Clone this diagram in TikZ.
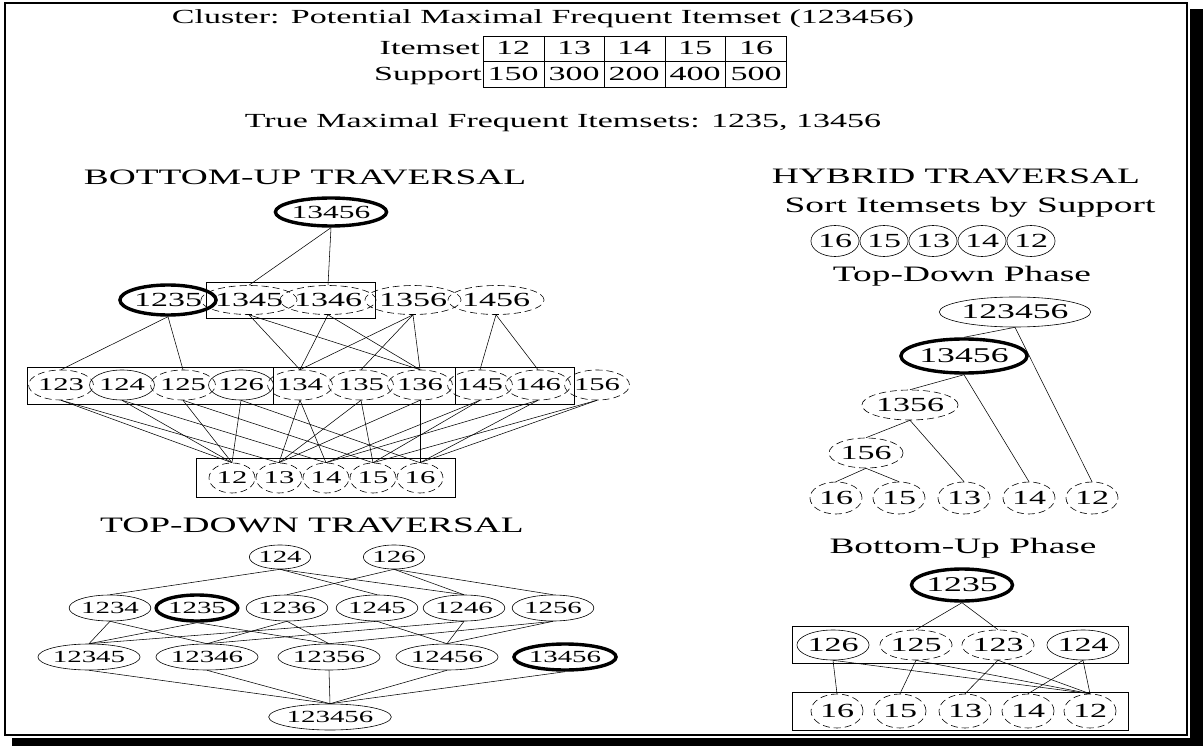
\documentclass[tikz,border=0pt]{standalone}
\usepackage{fontspec}
\setmainfont{Liberation Serif}[FakeStretch=1.7]
\usetikzlibrary{shapes.geometric}
\newcommand\hdsize{\fontsize{22}{24}\selectfont}
\newcommand\txsize{\fontsize{20}{22}\selectfont}
\newcommand\ndsize{\fontsize{20}{22}\selectfont}
\newcommand\smsize{\fontsize{18}{20}\selectfont}
\newcommand\tdsize{\fontsize{17}{19}\selectfont}
\begin{document}
\begin{tikzpicture}[x=1pt,y=-1pt,
  nd/.style={ellipse,draw,line width=0.6pt,inner sep=0pt,font=\ndsize},
  ds/.style={nd,dash pattern=on 7pt off 4pt},
  bd/.style={nd,line width=3.4pt},
  ed/.style={line width=0.55pt},
  gb/.style={draw,line width=0.7pt},
  tx/.style={inner sep=0pt,font=\txsize},
  hd/.style={inner sep=0pt,font=\hdsize},
  rtwo/.style={minimum width=78pt,minimum height=29pt},
  rthree/.style={minimum width=56pt,minimum height=30pt,font=\smsize},
  rfour/.style={minimum width=46pt,minimum height=30pt,font=\smsize},
  tdn/.style={font=\tdsize,minimum width=68pt,minimum height=26pt},
  hyn/.style={minimum width=52pt,minimum height=32pt}
]
\useasboundingbox (0,0) rectangle (1203,746);
% frame with shadow
\draw[line width=1.6pt] (5,3) rectangle (1187,735);
\fill[black] (1190,9) rectangle (1203,746);
\fill[black] (12,738) rectangle (1203,746);

% header
\node[tx] (title) at (543,19) {Cluster: Potential Maximal Frequent Itemset (123456)};
\node[tx,anchor=base east] (lis) at (480,55) {Itemset};
\node[tx,anchor=base east] (lsu) at (482,81) {Support};
\draw[gb] (483,36) rectangle (786,87);
\draw[gb] (483,61) -- (786,61);
\draw[gb] (544,36) -- (544,87) (604,36) -- (604,87) (665,36) -- (665,87) (725,36) -- (725,87);
\node[tx,anchor=base] (i1) at (513,55) {12};
\node[tx,anchor=base] (i2) at (574,55) {13};
\node[tx,anchor=base] (i3) at (634,55) {14};
\node[tx,anchor=base] (i4) at (695,55) {15};
\node[tx,anchor=base] (i5) at (756,55) {16};
\node[tx,anchor=base] (s1) at (513,81) {150};
\node[tx,anchor=base] (s2) at (574,81) {300};
\node[tx,anchor=base] (s3) at (634,81) {200};
\node[tx,anchor=base] (s4) at (695,81) {400};
\node[tx,anchor=base] (s5) at (756,81) {500};
\node[tx] (truemfi) at (563,123) {True Maximal Frequent Itemsets: 1235, 13456};

% ---------------- BOTTOM-UP TRAVERSAL
\node[hd] (hbu) at (305,177) {BOTTOM-UP TRAVERSAL};
\node[bd,minimum width=100pt,minimum height=28pt,font=\fontsize{18.5}{20}\selectfont] (b13456) at (331,212) {13456};
\node[bd,minimum width=80pt,minimum height=30pt] (b1235) at (168,300) {1235};
\node[ds,rtwo] (b1345) at (249,300) {1345};
\node[ds,rtwo] (b1346) at (328,300) {1346};
\node[ds,rtwo] (b1356) at (413,300) {1356};
\node[ds,rtwo] (b1456) at (496,300) {1456};
\draw[gb] (206,282) rectangle (375,318);

\node[ds,rthree] (b123) at (61,385) {123};
\node[nd,rthree] (b124) at (122,385) {124};
\node[ds,rthree] (b125) at (183,385) {125};
\node[nd,rthree] (b126) at (241,385) {126};
\node[ds,rthree] (b134) at (300,385) {134};
\node[ds,rthree] (b135) at (361,385) {135};
\node[ds,rthree] (b136) at (420,385) {136};
\node[ds,rthree] (b145) at (480,385) {145};
\node[ds,rthree] (b146) at (538,385) {146};
\node[ds,rthree] (b156) at (597,385) {156};
\draw[gb] (27,367) rectangle (574,404);
\draw[gb] (273,367) -- (273,404) (455,367) -- (455,404);

\node[ds,rfour] (c12) at (232,478) {12};
\node[ds,rfour] (c13) at (279,478) {13};
\node[ds,rfour] (c14) at (326,478) {14};
\node[ds,rfour] (c15) at (373,478) {15};
\node[ds,rfour] (c16) at (420,478) {16};
\draw[gb] (196,458) rectangle (455,497);

\draw[ed] (b13456.south) -- (b1345.north);
\draw[ed] (b13456.south) -- (b1346.north);
\foreach \a/\b in {1235/123,1235/125,1345/134,1345/136,1346/134,1346/136,1356/134,1356/135,1356/136,1456/145,1456/146}
  \draw[ed] (b\a.south) -- (b\b.north);
\foreach \a/\b in {123/12,123/13,124/12,124/14,125/12,125/15,126/12,126/16,134/13,134/14,135/13,135/15,136/13,136/16,145/14,145/15,146/14,146/16,156/15,156/16}
  \draw[ed] (b\a.south) -- (c\b.north);

% ---------------- TOP-DOWN TRAVERSAL
\node[hd] (htd) at (312,525) {TOP-DOWN TRAVERSAL};
\node[nd,tdn,minimum width=54pt,minimum height=24pt] (t124) at (280,557) {124};
\node[nd,tdn,minimum width=54pt,minimum height=24pt] (t126) at (394,557) {126};
\node[nd,tdn] (t1234) at (110,608) {1234};
\node[bd,tdn,minimum width=70pt] (t1235) at (197,608) {1235};
\node[nd,tdn] (t1236) at (287,608) {1236};
\node[nd,tdn] (t1245) at (377,608) {1245};
\node[nd,tdn] (t1246) at (464,608) {1246};
\node[nd,tdn] (t1256) at (553,608) {1256};
\node[nd,tdn,minimum width=72pt] (t12345) at (89,657) {12345};
\node[nd,tdn,minimum width=72pt] (t12346) at (207,657) {12346};
\node[nd,tdn,minimum width=72pt] (t12356) at (329,657) {12356};
\node[nd,tdn,minimum width=72pt] (t12456) at (447,657) {12456};
\node[bd,tdn,minimum width=86pt] (t13456) at (565,657) {13456};
\node[nd,tdn,minimum width=94pt] (t123456) at (330,717) {123456};
\foreach \a/\b in {124/1234,124/1245,124/1246,126/1236,126/1246,126/1256,
  1234/12345,1234/12346,1235/12345,1235/12356,1236/12346,1236/12356,
  1245/12345,1245/12456,1246/12346,1246/12456,1256/12356,1256/12456}
  \draw[ed] (t\a.south) -- (t\b.north);
\foreach \a in {12345,12346,12356,12456,13456}
  \draw[ed] (t\a.south) -- (t123456.north);

% ---------------- HYBRID TRAVERSAL
\node[hd] (hhy) at (956,176) {HYBRID TRAVERSAL};
\node[hd] (hsort) at (970,207) {Sort Itemsets by Support};
\node[nd,minimum width=46pt,minimum height=31pt] (o16) at (835,241) {16};
\node[nd,minimum width=46pt,minimum height=31pt] (o15) at (884,241) {15};
\node[nd,minimum width=46pt,minimum height=31pt] (o13) at (933,241) {13};
\node[nd,minimum width=46pt,minimum height=31pt] (o14) at (982,241) {14};
\node[nd,minimum width=46pt,minimum height=31pt] (o12) at (1031,241) {12};
\node[hd] (htdp) at (962,276) {Top-Down Phase};
\node[nd,minimum width=110pt,minimum height=30pt,font=\fontsize{21}{23}\selectfont] (h123456) at (1015,312) {123456};
\node[bd,minimum width=110pt,minimum height=34pt,font=\fontsize{21}{23}\selectfont] (h13456) at (964,356) {13456};
\node[ds,minimum width=88pt,minimum height=30pt] (h1356) at (910,405) {1356};
\node[ds,minimum width=74pt,minimum height=30pt] (h156) at (866,453) {156};
\node[ds,hyn] (h16) at (836,498) {16};
\node[ds,hyn] (h15) at (899,498) {15};
\node[ds,hyn] (h13) at (964,498) {13};
\node[ds,hyn] (h14) at (1029,498) {14};
\node[ds,hyn] (h12) at (1092,498) {12};
\foreach \a/\b in {123456/13456,123456/12,13456/1356,13456/14,1356/156,1356/13,156/16,156/15}
  \draw[ed] (h\a.south) -- (h\b.north);

\node[hd] (hbup) at (963,548) {Bottom-Up Phase};
\node[bd,minimum width=92pt,minimum height=32pt,font=\fontsize{21}{23}\selectfont] (g1235) at (962,585) {1235};
\draw[gb] (792,626) rectangle (1128,663);
\node[nd,minimum width=68pt,minimum height=30pt] (g126) at (833,645) {126};
\node[ds,minimum width=68pt,minimum height=30pt] (g125) at (916,645) {125};
\node[ds,minimum width=68pt,minimum height=30pt] (g123) at (998,645) {123};
\node[nd,minimum width=72pt,minimum height=30pt] (g124) at (1083,645) {124};
\draw[gb] (792,692) rectangle (1128,730);
\node[ds,hyn,minimum height=34pt] (k16) at (837,711) {16};
\node[ds,hyn,minimum height=34pt] (k15) at (900,711) {15};
\node[ds,hyn,minimum height=34pt] (k13) at (965,711) {13};
\node[ds,hyn,minimum height=34pt] (k14) at (1028,711) {14};
\node[ds,hyn,minimum height=34pt] (k12) at (1090,711) {12};
\draw[ed] (g1235.south) -- (g125.north);
\draw[ed] (g1235.south) -- (g123.north);
\foreach \a/\b in {126/16,126/12,125/15,125/12,123/13,123/12,124/14,124/12}
  \draw[ed] (g\a.south) -- (k\b.north);
\end{tikzpicture}
\end{document}
